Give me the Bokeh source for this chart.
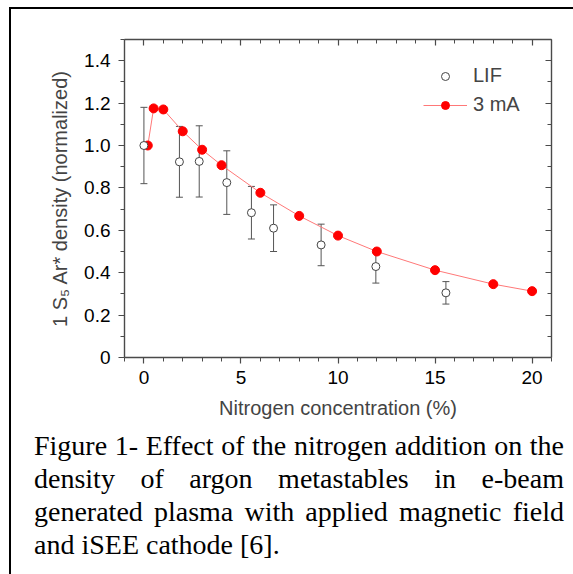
from bokeh.plotting import figure
from bokeh.layouts import column
from bokeh.models import (LinearAxis, FixedTicker, CustomJSTickFormatter, Whisker,
                          ColumnDataSource, Legend, LegendItem, TeeHead, Range1d, Div)
from bokeh.embed import file_html
from bokeh.resources import INLINE

# ---------------- data ----------------
lif_x = [0, 1.83, 2.85, 4.27, 5.54, 6.68, 9.13, 11.95, 15.56]
lif_y = [1.0, 0.923, 0.925, 0.825, 0.683, 0.61, 0.531, 0.429, 0.305]
lif_err = [0.18, 0.167, 0.168, 0.15, 0.124, 0.11, 0.098, 0.078, 0.053]

ma3_x = [0.2, 0.5, 1.0, 2, 3, 4, 6, 8, 10, 12, 15, 18, 20]
ma3_y = [1.0, 1.175, 1.17, 1.067, 0.98, 0.907, 0.777, 0.668, 0.575, 0.5, 0.412, 0.346, 0.313]

x_ticks = [0, 5, 10, 15, 20]
x_minor = [-1, 1, 2, 3, 4, 6, 7, 8, 9, 11, 12, 13, 14, 16, 17, 18, 19, 21]
y_ticks = [0, 0.2, 0.4, 0.6, 0.8, 1.0, 1.2, 1.4]
y_minor = [0.1, 0.3, 0.5, 0.7, 0.9, 1.1, 1.3, 1.5]

x_label = "Nitrogen concentration (%)"
y_label = "1 S\u2085 Ar* density (normalized)"
series_names = ["LIF", "3 mA"]

caption_lines = [
    "Figure 1- Effect of the nitrogen addition on the",
    "density of argon metastables in e-beam",
    "generated plasma with applied magnetic field",
    "and iSEE cathode [6].",
]

# ---------------- geometry (page pixels) ----------------
PAGE_W, PAGE_H = 573, 574
OX, OY = 11, 9                       # inner corner of the black outer frame
FL, FR, FT, FB = 124, 551, 39, 357   # plot frame edges
SPLIT = 429                          # where the caption starts
W1, H1 = PAGE_W - OX, SPLIT - OY
W2, H2 = PAGE_W - OX, PAGE_H - SPLIT

p = figure(width=W1, height=H1, x_range=Range1d(-1, 21), y_range=Range1d(0, 1.5),
           output_backend="svg", toolbar_location=None,
           min_border_left=FL - OX, min_border_right=PAGE_W - FR,
           min_border_top=FT - OY, min_border_bottom=SPLIT - FB,
           background_fill_color="white", border_fill_color="white")
p.grid.visible = False
p.outline_line_color = None

AX = "#4a4a4a"
SANS = "Liberation Sans"


def style_axis(ax, ticks, minor, tin, tout, min_in, min_out, labels=True):
    ax.ticker = FixedTicker(ticks=ticks, minor_ticks=minor)
    ax.axis_line_color = AX
    ax.axis_line_width = 1.4
    ax.major_tick_line_color = AX
    ax.minor_tick_line_color = AX
    ax.major_tick_line_width = 1.2
    ax.minor_tick_line_width = 1.0
    ax.major_tick_in = tin
    ax.major_tick_out = tout
    ax.minor_tick_in = min_in
    ax.minor_tick_out = min_out
    ax.major_label_text_font = SANS
    ax.major_label_text_font_size = "19px"
    ax.major_label_text_color = "black"
    if not labels:
        ax.formatter = CustomJSTickFormatter(code="return '';")
        ax.major_label_standoff = 0


xa = p.xaxis[0]
style_axis(xa, x_ticks, x_minor, 0, 6, 0, 4)
xa.axis_label = x_label
xa.axis_label_text_font = SANS
xa.axis_label_text_font_size = "20px"
xa.axis_label_text_font_style = "normal"
xa.axis_label_standoff = 10
xa.major_label_standoff = 7

ya = p.yaxis[0]
style_axis(ya, y_ticks, y_minor, 0, 6, 0, 4)
ya.formatter = CustomJSTickFormatter(code="return tick === 0 ? '0' : tick.toFixed(1);")
ya.axis_label = y_label
ya.axis_label_text_font = SANS
ya.axis_label_text_font_size = "20px"
ya.axis_label_text_font_style = "normal"
ya.axis_label_standoff = 10
ya.major_label_standoff = 8

top = LinearAxis()
style_axis(top, x_ticks, x_minor, 6, 0, 4, 0, labels=False)
p.add_layout(top, "above")
right = LinearAxis()
style_axis(right, y_ticks, y_minor, 6, 0, 4, 0, labels=False)
p.add_layout(right, "right")

# ---------------- data marks ----------------
src_lif = ColumnDataSource(dict(
    x=lif_x, y=lif_y,
    upper=[v + e for v, e in zip(lif_y, lif_err)],
    lower=[v - e for v, e in zip(lif_y, lif_err)],
))
ERR = "#555555"
wh = Whisker(source=src_lif, base="x", upper="upper", lower="lower", dimension="height",
             line_color=ERR, line_width=1,
             upper_head=TeeHead(size=7, line_color=ERR, line_width=1),
             lower_head=TeeHead(size=7, line_color=ERR, line_width=1),
             level="underlay")
p.add_layout(wh)

line_r = p.line(ma3_x, ma3_y, line_color="#ff7878", line_width=1)
red_r = p.scatter(ma3_x, ma3_y, size=9, fill_color="#ff0000", line_color="#ff0000")
lif_r = p.scatter("x", "y", source=src_lif, size=8, fill_color="white",
                  line_color="#444444", line_width=1)

legend = Legend(items=[LegendItem(label=series_names[0], renderers=[lif_r]),
                       LegendItem(label=series_names[1], renderers=[line_r, red_r])],
                location=(423 - FL, FB - 116), glyph_width=44, glyph_height=20,
                label_height=20, label_standoff=6, spacing=6, padding=0, margin=0,
                border_line_color=None, background_fill_alpha=0,
                label_text_font=SANS, label_text_font_size="20px")
p.add_layout(legend)

# ---------------- caption (justified text block) ----------------
CL, CR = 34, 564
just = "text-align:justify;text-align-last:justify;white-space:nowrap;"
rows = []
for i, line in enumerate(caption_lines):
    st = just if i < len(caption_lines) - 1 else "text-align:left;white-space:nowrap;"
    rows.append(f'<div style="{st}height:33px;">{line}</div>')
html = (f'<div style="margin-left:{CL - OX}px;width:{CR - CL}px;'
        f"font-family:'Liberation Serif';font-size:28px;line-height:33px;color:black;\">"
        + "".join(rows) + "</div>")
cap = Div(text=html, width=W2, height=H2, margin=0)

lay = column(p, cap, spacing=0, margin=(OY - 2, 0, 0, OX - 2),
             styles={"border-left": "2px solid black", "border-top": "2px solid black"})

open("out.html", "w").write(file_html(lay, INLINE))
